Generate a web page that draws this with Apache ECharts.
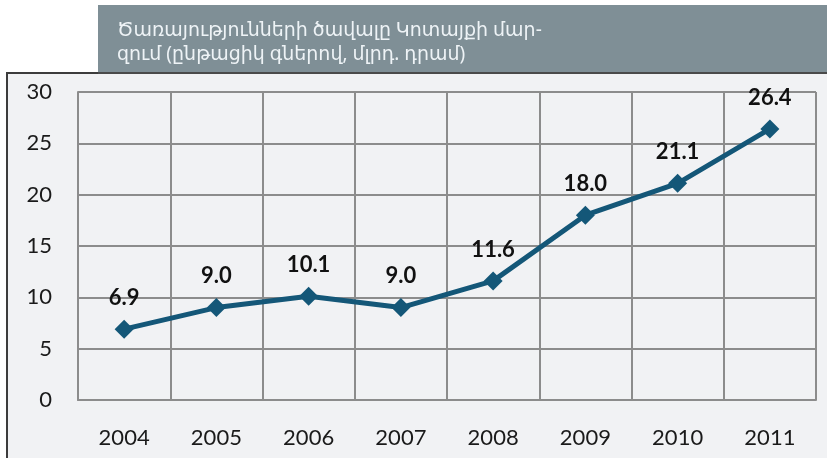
<!DOCTYPE html>
<html>
<head>
<meta charset="utf-8">
<script src="https://cdn.jsdelivr.net/npm/echarts@6/dist/echarts.min.js"></script>
<style>
html,body{margin:0;padding:0;background:#ffffff;}
#c{width:827px;height:458px;}
</style>
</head>
<body>
<div id="c"></div>
<script>
var years = ['2004','2005','2006','2007','2008','2009','2010','2011'];
var values = [6.9, 9.0, 10.1, 9.0, 11.6, 18.0, 21.1, 26.4];
var titleLines = ['Ծառայությունների ծավալը Կոտայքի մար-', 'զում (ընթացիկ գներով, մլրդ. դրամ)'];

var chart = echarts.init(document.getElementById('c'), null, {renderer: 'canvas'});
chart.setOption({
  backgroundColor: '#ffffff',
  animation: false,
  graphic: [
    {type: 'rect', z: 0, shape: {x: 7, y: 73, width: 830, height: 400},
     style: {fill: '#f1f2f4', stroke: '#3c3c3c', lineWidth: 2}},
    {type: 'rect', z: 1, shape: {x: 98, y: 5, width: 740, height: 68},
     style: {fill: '#7f8f96'}},
    {type: 'line', z: 2, shape: {x1: 98, y1: 73, x2: 827, y2: 73},
     style: {stroke: '#4a4a4a', lineWidth: 2}}
  ],
  title: {
    text: titleLines.join('\n'),
    left: 112, top: 14,
    textStyle: {color: '#eef3f6', fontSize: 19, fontWeight: 'normal',
      fontFamily: '"Noto Sans", "DejaVu Sans", sans-serif', lineHeight: 24}
  },
  grid: {left: 78, top: 92, right: 11, bottom: 58, show: true,
    borderColor: '#8c8c8c', borderWidth: 2, backgroundColor: 'transparent'},
  xAxis: {
    type: 'category', data: years, boundaryGap: true,
    axisLine: {show: true, lineStyle: {color: '#8c8c8c', width: 2}},
    axisTick: {show: false},
    splitLine: {show: true, lineStyle: {color: '#8c8c8c', width: 2}},
    axisLabel: {color: '#1a1a1a', fontSize: 22, margin: 27, fontFamily: 'Lato, sans-serif'}
  },
  yAxis: {
    type: 'value', min: 0, max: 30, interval: 5,
    axisLine: {show: true, lineStyle: {color: '#8c8c8c', width: 2}},
    axisTick: {show: false},
    splitLine: {show: true, lineStyle: {color: '#8c8c8c', width: 2}},
    axisLabel: {color: '#1a1a1a', fontSize: 22, margin: 26, fontFamily: 'Lato, sans-serif'}
  },
  series: [{
    type: 'line', data: values,
    symbol: 'diamond', symbolSize: 19,
    lineStyle: {color: '#145778', width: 5},
    itemStyle: {color: '#145778'},
    label: {show: true, position: 'top', distance: 11,
      formatter: function(p){ return p.value.toFixed(1); },
      color: '#111111', fontSize: 22, fontWeight: 'bold', fontFamily: 'Lato, sans-serif'}
  }]
});
</script>
</body>
</html>
